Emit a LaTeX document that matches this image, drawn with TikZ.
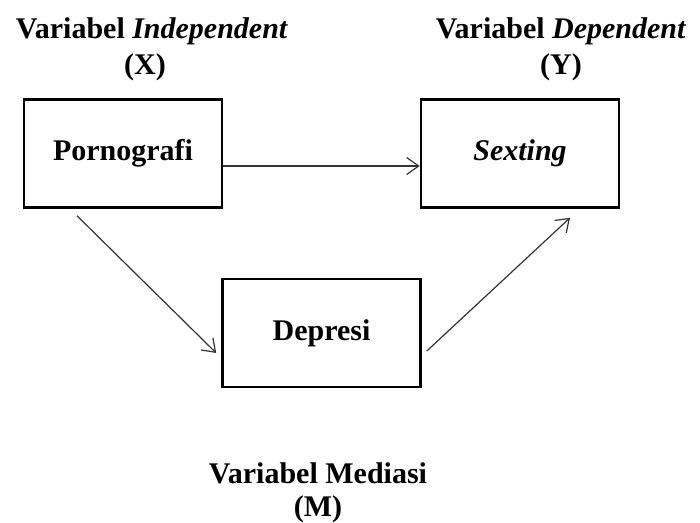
\documentclass[tikz,border=0pt]{standalone}
\usepackage{fontspec}
\setmainfont{Liberation Serif}
\usepackage{tikz}
\usetikzlibrary{positioning, arrows.meta, calc}

\begin{document}
\begin{tikzpicture}[
        x=1pt, y=-1pt,
        thick,
        varbox/.style={rectangle, draw, line width=2.6pt, minimum width=198pt, minimum height=108pt, inner sep=0pt, align=center, font=\fontsize{30}{36}\selectfont\bfseries},
        title/.style={anchor=base, inner sep=0pt, font=\fontsize{30}{36}\selectfont\bfseries},
        line/.style={draw, line width=1.2pt, black!80, -{Straight Barb[length=12pt, width=17pt, line width=1.2pt]}}
    ]
        \useasboundingbox (0,0) rectangle (700,522);

        % Titles
        \node[title] (TitleX) at (152,38) {Variabel \textit{Independent}};
        \node[title] (LabelX) at (145,74) {(X)};
        \node[title] (TitleY) at (561,38) {Variabel \textit{Dependent}};
        \node[title] (LabelY) at (561,74) {(Y)};
        \node[title] (TitleM) at (318,483) {Variabel Mediasi};
        \node[title] (LabelM) at (318,516) {(M)};

        % Variables
        \node[varbox] (Porno) at (123,153.5) {Pornografi};
        \node[varbox] (Sext) at (520,153.5) {\textit{Sexting}};
        \node[varbox] (Depr) at (321.5,333) {Depresi};

        % Paths
        \draw[line] ([yshift=-12.5pt]Porno.east) -- ([yshift=-12.5pt]Sext.west);
        \draw[line] ([shift={(-46pt,-7pt)}]Porno.south) -- ([shift={(-5pt,-20pt)}]Depr.west);
        \draw[line] ([shift={(5pt,-18pt)}]Depr.east) -- ([shift={(50pt,-9pt)}]Sext.south);

    \end{tikzpicture}
\end{document}
